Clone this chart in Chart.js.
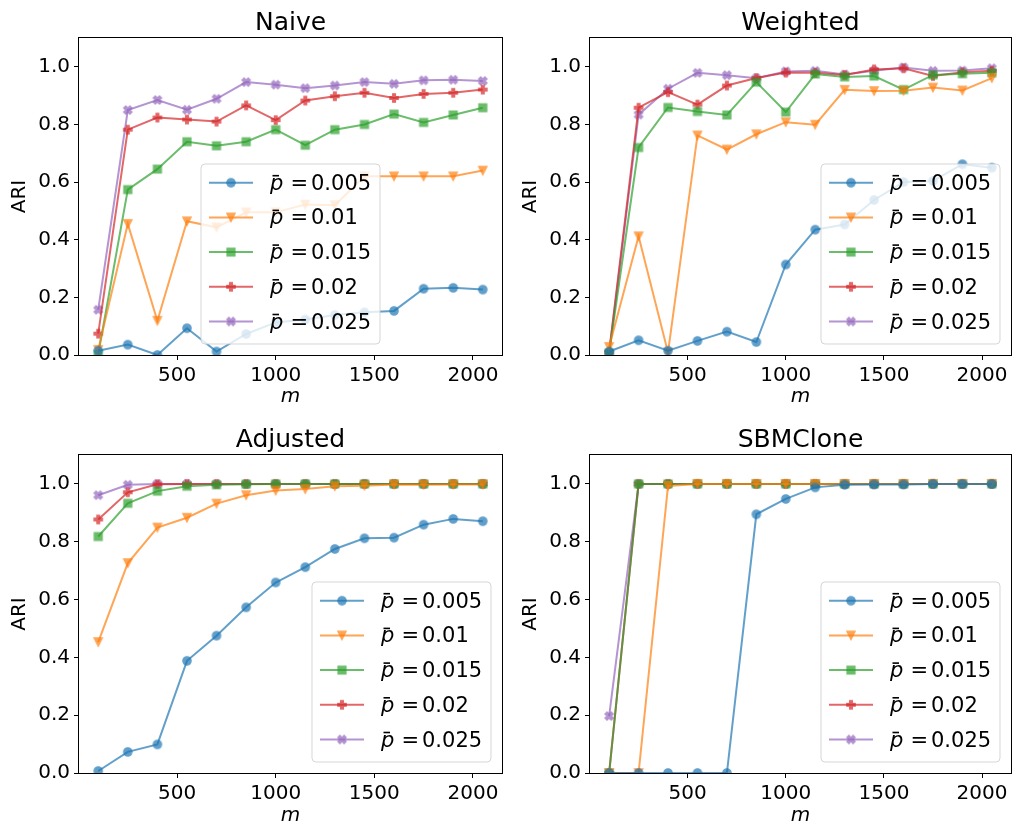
<!DOCTYPE html>
<html>
<head>
<meta charset="utf-8">
<script src="https://cdn.jsdelivr.net/npm/chart.js"></script>
<style>
  html, body { margin: 0; padding: 0; background: #fff; overflow: hidden; }
  #wrap { position: relative; width: 1018px; height: 824px; overflow: hidden; }
  canvas { position: absolute; }
</style>
</head>
<body>
<div id="wrap">
  <canvas id="c0" width="509" height="420" style="left:0;top:0"></canvas>
  <canvas id="c1" width="509" height="420" style="left:509px;top:0"></canvas>
  <canvas id="c2" width="509" height="410" style="left:0;top:420px"></canvas>
  <canvas id="c3" width="509" height="410" style="left:509px;top:420px"></canvas>
</div>
<script>
// x positions (m) shared by every panel
const mValues = [100, 250, 400, 550, 700, 850, 1000, 1150, 1300, 1450, 1600, 1750, 1900, 2050];
const pLabels = ['0.005', '0.01', '0.015', '0.02', '0.025'];
const xTickValues = [500, 1000, 1500, 2000];
const yTickValues = [0, 0.2, 0.4, 0.6, 0.8, 1.0];

// Naive
const naiveP005 = [0.015, 0.036, 0.0, 0.093, 0.012, 0.073, 0.113, 0.123, 0.139, 0.148, 0.153, 0.23, 0.233, 0.227];
const naiveP01 = [0.018, 0.455, 0.119, 0.464, 0.443, 0.495, 0.495, 0.522, 0.52, 0.62, 0.62, 0.62, 0.62, 0.64];
const naiveP015 = [0.003, 0.574, 0.645, 0.74, 0.726, 0.74, 0.782, 0.728, 0.782, 0.80, 0.836, 0.807, 0.833, 0.858];
const naiveP02 = [0.074, 0.782, 0.824, 0.817, 0.81, 0.866, 0.815, 0.883, 0.898, 0.91, 0.892, 0.906, 0.91, 0.921];
const naiveP025 = [0.157, 0.85, 0.885, 0.851, 0.889, 0.947, 0.938, 0.926, 0.935, 0.947, 0.941, 0.953, 0.955, 0.951];

// Weighted
const weightedP005 = [0.012, 0.051, 0.015, 0.049, 0.081, 0.045, 0.314, 0.435, 0.453, 0.538, 0.60, 0.604, 0.662, 0.65];
const weightedP01 = [0.028, 0.412, 0.009, 0.762, 0.713, 0.766, 0.808, 0.799, 0.92, 0.916, 0.917, 0.928, 0.918, 0.961];
const weightedP015 = [0.007, 0.72, 0.859, 0.845, 0.833, 0.947, 0.843, 0.975, 0.965, 0.968, 0.921, 0.972, 0.976, 0.979];
const weightedP02 = [0.01, 0.858, 0.912, 0.869, 0.935, 0.961, 0.98, 0.979, 0.972, 0.991, 0.995, 0.968, 0.981, 0.986];
const weightedP025 = [0.007, 0.834, 0.924, 0.979, 0.971, 0.96, 0.984, 0.986, 0.973, 0.986, 0.998, 0.986, 0.987, 0.995];

// Adjusted
const adjustedP005 = [0.007, 0.073, 0.099, 0.388, 0.475, 0.573, 0.659, 0.712, 0.775, 0.812, 0.814, 0.859, 0.879, 0.871];
const adjustedP01 = [0.453, 0.726, 0.849, 0.883, 0.932, 0.961, 0.977, 0.982, 0.992, 0.994, 0.998, 0.997, 0.998, 0.998];
const adjustedP015 = [0.818, 0.933, 0.975, 0.992, 0.997, 0.999, 1, 1, 1, 1, 1, 1, 1, 1];
const adjustedP02 = [0.877, 0.971, 0.999, 1, 1, 1, 1, 1, 1, 1, 1, 1, 1, 1];
const adjustedP025 = [0.961, 0.997, 1, 1, 1, 1, 1, 1, 1, 1, 1, 1, 1, 1];

// SBMClone
const sbmP005 = [0, 0, 0, 0, 0, 0.895, 0.948, 0.988, 0.997, 0.998, 0.998, 1, 1, 1];
const sbmP01 = [0, 0, 0.993, 1, 1, 1, 1, 1, 1, 1, 1, 1, 1, 1];
const sbmP015 = [0, 1, 1, 1, 1, 1, 1, 1, 1, 1, 1, 1, 1, 1];
const sbmP02 = [0, 1, 1, 1, 1, 1, 1, 1, 1, 1, 1, 1, 1, 1];
const sbmP025 = [0.197, 1, 1, 1, 1, 1, 1, 1, 1, 1, 1, 1, 1, 1];

const colors = ['#1f77b4', '#ff7f0e', '#2ca02c', '#d62728', '#9467bd'];
const markerShapes = ['circle', 'triangleDown', 'square', 'plus', 'xFilled'];
const ALPHA = 0.7;
const FONT = 'DejaVu Sans';

Chart.defaults.font.family = FONT;
Chart.defaults.color = '#000';

function rgba(hex, a) {
  const n = parseInt(hex.slice(1), 16);
  return `rgba(${(n >> 16) & 255},${(n >> 8) & 255},${n & 255},${a})`;
}

// builds a small transparent canvas used as pointStyle (and in the legend)
function makeMarker(shape, color) {
  const size = 16;
  const c = 8;
  const raw = document.createElement('canvas');
  raw.width = size; raw.height = size;
  const g = raw.getContext('2d');
  g.fillStyle = color;
  g.strokeStyle = color;
  g.lineWidth = 1.3;
  g.lineJoin = 'miter';
  g.beginPath();
  const s = 8.3;
  let pts = null;
  if (shape === 'circle') {
    g.arc(c, c, s / 2, 0, Math.PI * 2);
  } else if (shape === 'triangleDown') {
    // canvas y grows downward, so tip at +y points down
    pts = [[0, 1], [-1, -1], [1, -1]].map(([x, y]) => [c + x * s / 2, c + y * s / 2]);
  } else if (shape === 'square') {
    pts = [[-0.5, -0.5], [0.5, -0.5], [0.5, 0.5], [-0.5, 0.5]].map(([x, y]) => [c + x * s * 0.95, c + y * s * 0.95]);
  } else if (shape === 'plus') {
    pts = [[-1, -3], [1, -3], [1, -1], [3, -1], [3, 1], [1, 1], [1, 3], [-1, 3], [-1, 1], [-3, 1], [-3, -1], [-1, -1]]
      .map(([x, y]) => [c + x * s / 6, c + y * s / 6]);
  } else {
    pts = [[-1, -2], [0, -1], [1, -2], [2, -1], [1, 0], [2, 1], [1, 2], [0, 1], [-1, 2], [-2, 1], [-1, 0], [-2, -1]]
      .map(([x, y]) => [c + x * s / 4, c + y * s / 4]);
  }
  if (pts) {
    g.moveTo(pts[0][0], pts[0][1]);
    pts.slice(1).forEach(([x, y]) => g.lineTo(x, y));
    g.closePath();
  }
  g.fill();
  g.stroke();
  const out = document.createElement('canvas');
  out.width = size; out.height = size;
  const o = out.getContext('2d');
  o.globalAlpha = ALPHA;
  o.drawImage(raw, 0, 0);
  return out;
}

const markers = colors.map((col, i) => makeMarker(markerShapes[i], col));

function roundRect(ctx, x, y, w, h, r) {
  ctx.beginPath();
  ctx.moveTo(x + r, y);
  ctx.arcTo(x + w, y, x + w, y + h, r);
  ctx.arcTo(x + w, y + h, x, y + h, r);
  ctx.arcTo(x, y + h, x, y, r);
  ctx.arcTo(x, y, x + w, y, r);
  ctx.closePath();
}

const framePlugin = {
  id: 'frame',
  afterDatasetsDraw(chart) {
    const { ctx, chartArea: a } = chart;
    ctx.save();
    ctx.strokeStyle = '#000';
    ctx.lineWidth = 1;
    ctx.strokeRect(Math.round(a.left) - 0.5, Math.round(a.top) - 0.5,
      Math.round(a.right - a.left) + 1, Math.round(a.bottom - a.top) + 1);
    // panel title
    const t = chart.options.plugins.frame.title;
    ctx.fillStyle = '#000';
    ctx.font = `25px "${FONT}"`;
    ctx.textAlign = 'center';
    ctx.textBaseline = 'alphabetic';
    ctx.fillText(t, (a.left + a.right) / 2, a.top - 8.5);
    ctx.restore();
  },
  afterDraw(chart) {
    const { ctx, chartArea: a } = chart;
    const opts = chart.options.plugins.frame;
    const w = 179;
    const h = 180;
    const bx = opts.legendAlign === 'center' ? (a.left + a.right) / 2 - w / 2 : a.right - 11 - w;
    const by = a.bottom - 11 - h;
    ctx.save();
    roundRect(ctx, bx, by, w, h, 4);
    ctx.fillStyle = 'rgba(255,255,255,0.8)';
    ctx.fill();
    ctx.strokeStyle = 'rgba(204,204,204,0.8)';
    ctx.lineWidth = 1;
    ctx.stroke();
    chart.data.datasets.forEach((ds, i) => {
      const y = by + 18.7 + i * 34.7;
      ctx.strokeStyle = ds.borderColor;
      ctx.lineWidth = 2;
      ctx.beginPath();
      ctx.moveTo(bx + 8, y);
      ctx.lineTo(bx + 52, y);
      ctx.stroke();
      ctx.drawImage(markers[i], bx + 30 - 8, y - 8);
      ctx.fillStyle = '#000';
      ctx.textAlign = 'left';
      ctx.textBaseline = 'alphabetic';
      ctx.font = `italic 21px "${FONT}"`;
      ctx.fillText('p', bx + 69, y + 7);
      ctx.fillRect(bx + 71.5, y - 7.8, 6.5, 1.6);
      ctx.font = `21px "${FONT}"`;
      ctx.fillText('=', bx + 89.5, y + 7);
      ctx.fillText(pLabels[i], bx + 110, y + 7);
    });
    ctx.restore();
  },
};

function buildDatasets(series) {
  return series.map((vals, i) => ({
    label: `p = ${pLabels[i]}`,
    data: mValues.map((m, j) => ({ x: m, y: vals[j] })),
    borderColor: rgba(colors[i], ALPHA),
    backgroundColor: rgba(colors[i], ALPHA),
    borderWidth: 2,
    pointStyle: markers[i],
    pointRadius: 5,
    tension: 0,
    fill: false,
    clip: 0,
  }));
}

function makeChart(id, title, series, layout) {
  const tickFont = { family: FONT, size: 20 };
  return new Chart(document.getElementById(id), {
    type: 'line',
    data: { datasets: buildDatasets(series) },
    options: {
      responsive: false,
      animation: false,
      events: [],
      layout: { padding: { top: layout.top, right: layout.right, left: 0, bottom: 0 } },
      plugins: {
        legend: { display: false },
        tooltip: { enabled: false },
        frame: { title, legendAlign: layout.legendAlign },
      },
      scales: {
        x: {
          type: 'linear',
          min: 2.5,
          max: 2147.5,
          afterBuildTicks(scale) { scale.ticks = xTickValues.map((v) => ({ value: v })); },
          afterFit(scale) { scale.height = layout.xHeight; },
          ticks: { font: tickFont, color: '#000', padding: 4, maxRotation: 0, autoSkip: false, callback: (v) => String(v) },
          grid: { drawOnChartArea: false, drawTicks: true, tickLength: 5, color: '#000', lineWidth: 1 },
          border: { display: false },
          title: {
            display: true, text: 'm', color: '#000',
            font: { family: FONT, size: 20, style: 'italic', lineHeight: 1.2 },
            padding: { top: 0, bottom: layout.xTitlePad },
          },
        },
        y: {
          type: 'linear',
          min: 0,
          max: 1.1,
          afterBuildTicks(scale) { scale.ticks = yTickValues.map((v) => ({ value: v })); },
          afterFit(scale) { scale.width = layout.yWidth; },
          ticks: { font: tickFont, color: '#000', padding: 4, autoSkip: false, callback: (v) => v.toFixed(1) },
          grid: { drawOnChartArea: false, drawTicks: true, tickLength: 5, color: '#000', lineWidth: 1 },
          border: { display: false },
          title: {
            display: true, text: 'ARI', color: '#000',
            font: { family: FONT, size: 20, lineHeight: 1.2 },
            padding: { top: layout.yWidth - 59.5 - 12, bottom: 0 },
          },
        },
      },
    },
    plugins: [framePlugin],
  });
}

makeChart('c0', 'Naive', [naiveP005, naiveP01, naiveP015, naiveP02, naiveP025],
  { top: 38, right: 4, yWidth: 79, xHeight: 65, xTitlePad: 11, legendAlign: 'center' });
makeChart('c1', 'Weighted', [weightedP005, weightedP01, weightedP015, weightedP02, weightedP025],
  { top: 38, right: 1, yWidth: 81, xHeight: 65, xTitlePad: 11, legendAlign: 'right' });
makeChart('c2', 'Adjusted', [adjustedP005, adjustedP01, adjustedP015, adjustedP02, adjustedP025],
  { top: 35, right: 4, yWidth: 79, xHeight: 57, xTitlePad: 2, legendAlign: 'right' });
makeChart('c3', 'SBMClone', [sbmP005, sbmP01, sbmP015, sbmP02, sbmP025],
  { top: 35, right: 1, yWidth: 81, xHeight: 57, xTitlePad: 2, legendAlign: 'right' });
</script>
</body>
</html>
